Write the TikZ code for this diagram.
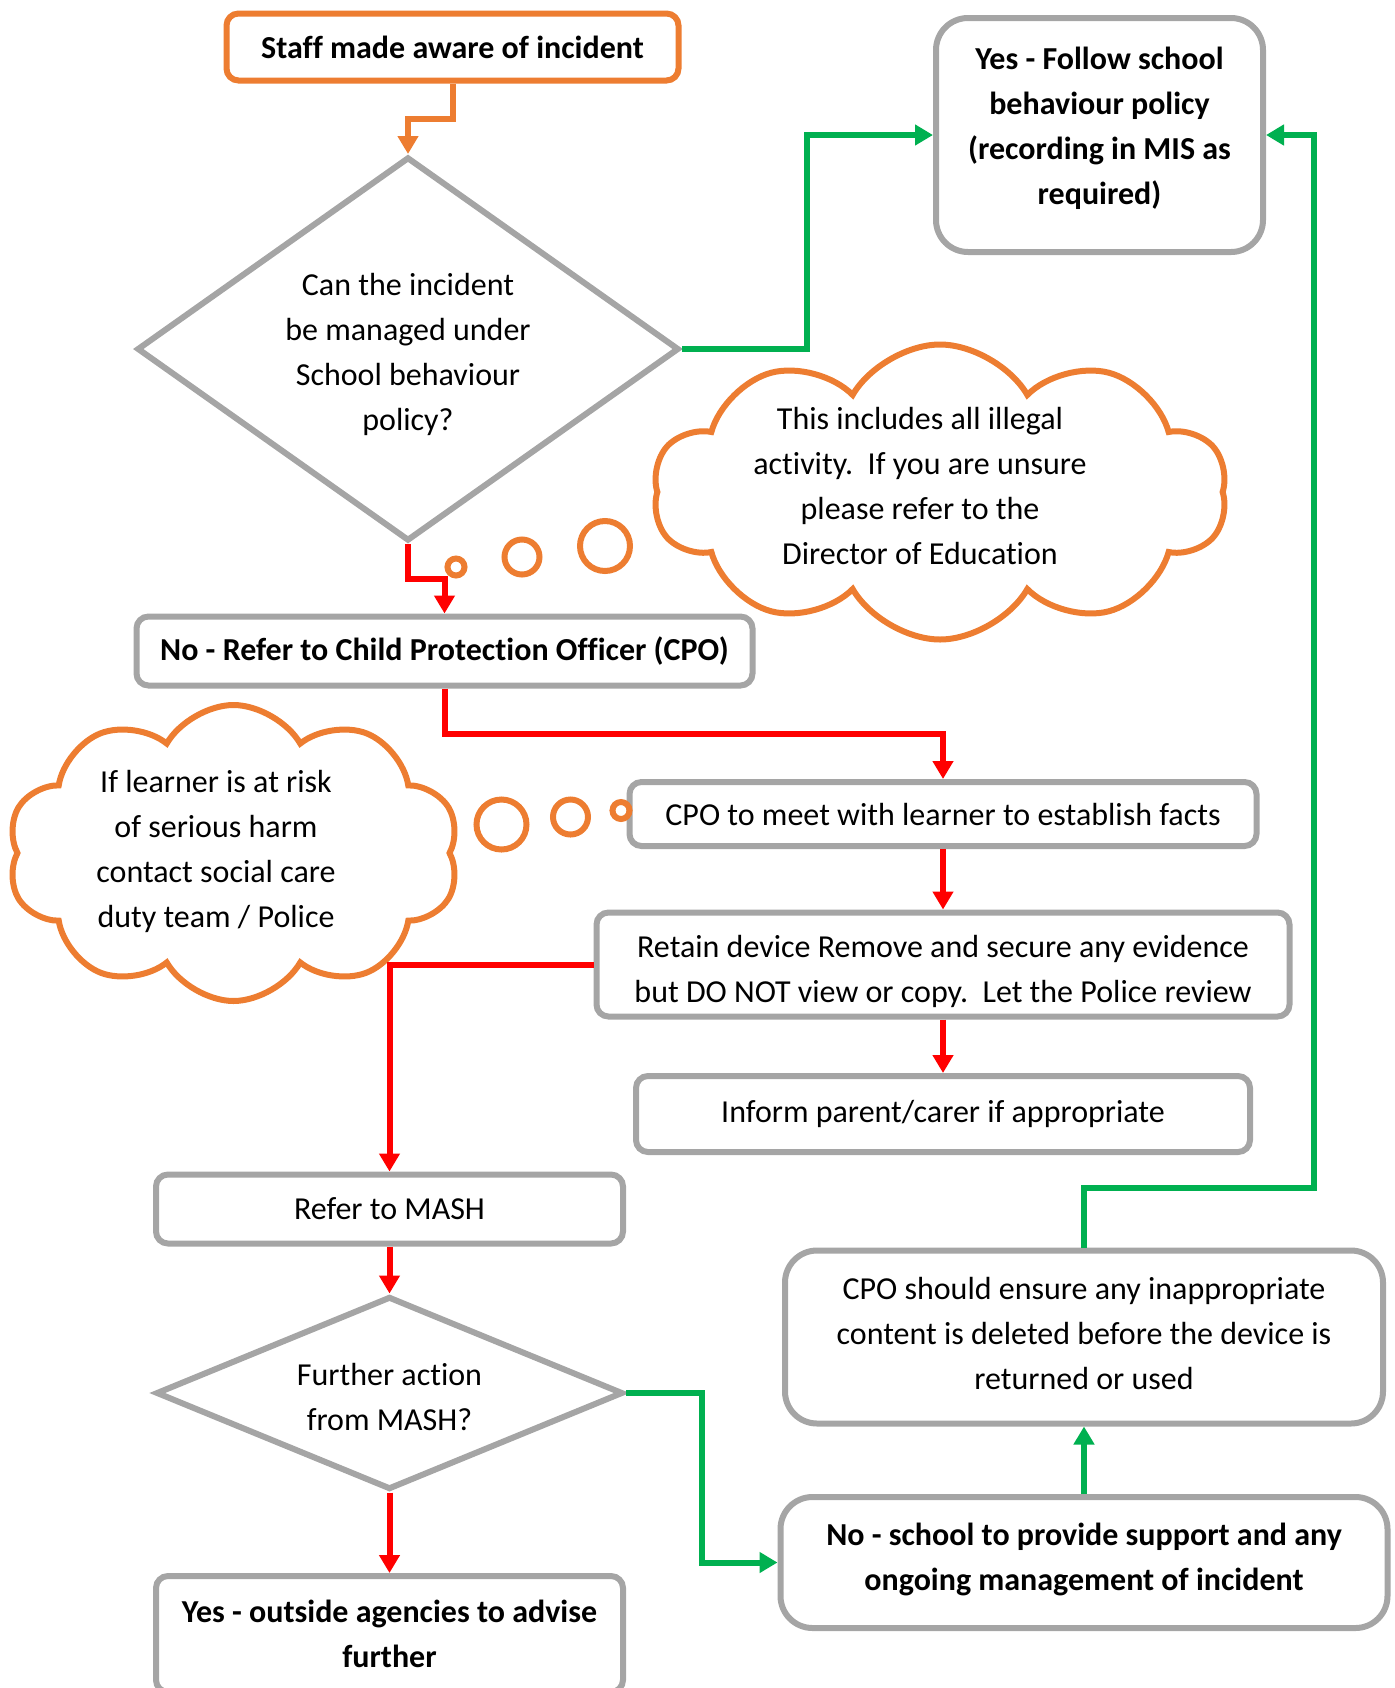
\documentclass[tikz,border=0pt]{standalone}
\usepackage{fontspec}
\setmainfont{Carlito}[Ligatures=NoCommon]
\usetikzlibrary{shapes.geometric, shapes.symbols}
\usetikzlibrary{arrows.meta}
\usetikzlibrary{positioning}

\definecolor{boxgrey}{HTML}{A5A5A5}
\definecolor{flowred}{HTML}{FF0000}
\definecolor{flowgreen}{HTML}{00B050}
\definecolor{floworange}{HTML}{ED7D31}

\begin{document}
\begin{tikzpicture}[x=0.5pt, y=-0.5pt,
			every node/.style={font=\fontsize{16}{22.5}\selectfont},
			every text node part/.style={align=center},
			boldtext/.style={font=\fontsize{16}{22.5}\selectfont\bfseries},
			smallbox/.style={draw=boxgrey, line width=3pt, rectangle, rounded corners=6pt, inner sep=4pt},
			bigbox/.style={smallbox, rounded corners=16pt},
			decision/.style={draw=boxgrey, line width=3pt, diamond, inner sep=0pt},
			thought/.style={draw=floworange, line width=3pt, cloud, cloud puffs=10, cloud puff arc=120, cloud ignores aspect, inner sep=0pt},
			bubble/.style={draw=floworange, line width=3pt, circle, inner sep=0pt},
			link/.style={line width=3pt, ->, >={Triangle[width=10pt,length=9pt]}}]
			\useasboundingbox (0,0) rectangle (1395,1688);
			\clip (0,0) rectangle (1395,1688);
			
			\node[smallbox, boldtext, draw=floworange, minimum width=226pt, minimum height=33.5pt](node1) at (452.5, 47) {Staff made aware of incident};
			
			\node[decision, aspect=1.41, minimum width=271pt, minimum height=192pt, text height=84pt](node2) at (408, 349) {Can the incident\\be managed under\\School behaviour\\policy?};
			\draw[link, floworange] (node1.south) -- ++(0,35) -| (node2.north);
			
			\node[bigbox, boldtext, minimum width=163.5pt, minimum height=117pt, text depth=9.5pt](node3) at (1099.5, 135) {Yes - Follow school\\behaviour policy\\(recording in MIS as\\required)};
			\draw[link, flowgreen] (node2.east) -- ++(125,0) |- (node3.west);
			
			% thought cloud next to the first decision
			\node[thought, minimum width=287pt, minimum height=147.5pt](cloud1) at (940, 492) {};
			\node(note1) at (920, 486) {This includes all illegal\\activity.\ \ If you are unsure\\please refer to the\\Director of Education};
			\node[bubble, minimum size=8.5pt](bubble1) at (456, 567) {};
			\node[bubble, minimum size=17.5pt](bubble2) at (522, 557) {};
			\node[bubble, minimum size=25pt](bubble3) at (605, 546) {};
			
			\node[smallbox, boldtext, minimum width=308pt, minimum height=34.5pt](node4) at (444.5, 651) {No - Refer to Child Protection Officer (CPO)};
			\draw[link, flowred] (node2.south) -- ++(0,35) -| (node4.north);
			
			\node[smallbox, minimum width=313.5pt, minimum height=32pt](node5) at (943, 814) {CPO to meet with learner to establish facts};
			\draw[link, flowred] (node4.south) -- ++(0,45) -| (node5.north);
			
			% thought cloud next to the CPO meeting
			\node[thought, minimum width=226pt, minimum height=148pt](cloud2) at (233.5, 853) {};
			\node(note2) at (216, 851) {If learner is at risk\\of serious harm\\contact social care\\duty team / Police};
			\node[bubble, minimum size=25pt](bubble4) at (501.5, 824.5) {};
			\node[bubble, minimum size=17.5pt](bubble5) at (570.5, 817) {};
			\node[bubble, minimum size=8.5pt](bubble6) at (621, 810.5) {};
			
			\node[smallbox, minimum width=346.5pt, minimum height=52pt, text height=41pt](node6) at (943, 964.5) {Retain device Remove and secure any evidence\\but DO NOT view or copy.\ \ Let the Police review};
			\draw[link, flowred] (node5) -- (node6);
			
			\node[smallbox, minimum width=307pt, minimum height=38pt](node7) at (943, 1114) {Inform parent/carer if appropriate};
			\draw[link, flowred] (node6) -- (node7);
			
			\node[smallbox, minimum width=233.5pt, minimum height=34.5pt](node8) at (389.5, 1209) {Refer to MASH};
			\draw[link, flowred] (node6.west) -| (node8.north);
			
			\node[decision, aspect=2.41, minimum width=233.5pt, minimum height=96.5pt, text height=38pt](node9) at (389.5, 1393) {Further action\\from MASH?};
			\draw[link, flowred] (node8) -- (node9);
			
			\node[smallbox, boldtext, minimum width=233.5pt, minimum height=58pt](node10) at (389.5, 1634) {Yes - outside agencies to advise\\further};
			\draw[link, flowred] (node9) -- (node10);
			
			\node[bigbox, boldtext, minimum width=303.5pt, minimum height=65.5pt, text depth=6pt](node11) at (1084, 1562.5) {No - school to provide support and any\\ongoing management of incident};
			\draw[link, flowgreen] (node9.east) -- ++(76,0) |- (node11.west);
			
			\node[bigbox, minimum width=299pt, minimum height=86.5pt, text depth=3.2pt](node12) at (1084, 1337) {CPO should ensure any inappropriate\\content is deleted before the device is\\returned or used};
			\draw[link, flowgreen] (node11) -- (node12);
			\draw[link, flowgreen] (node12.north) -- ++(0,-60) -- ++(230,0) |- (node3.east);
			\end{tikzpicture}
\end{document}
